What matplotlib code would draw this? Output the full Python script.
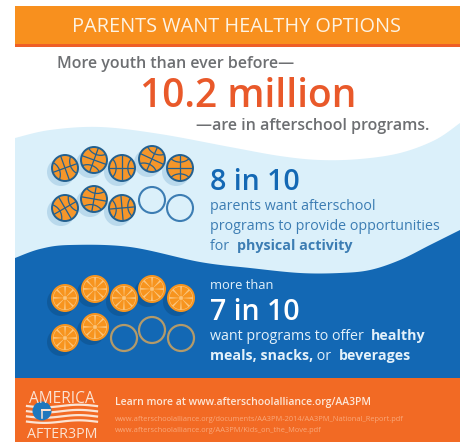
import numpy as np
import matplotlib
matplotlib.use("Agg")
import matplotlib.pyplot as plt
from matplotlib.patches import Circle, Rectangle, Polygon, Wedge, Arc
from matplotlib.path import Path

plt.rcParams['font.family'] = ['Open Sans', 'DejaVu Sans']

title = "PARENTS WANT HEALTHY OPTIONS"
youth_total = "10.2 million"
sports_filled = 8
meals_filled = 7
icons_total = 10
learn_more = "Learn more at www.afterschoolalliance.org/AA3PM"
source_urls = ["www.afterschoolalliance.org/documents/AA3PM-2014/AA3PM_National_Report.pdf",
               "www.afterschoolalliance.org/AA3PM/Kids_on_the_Move.pdf"]

# colours
ORANGE_HEAD = "#f8901e"
ORANGE_LINE = "#ee5f27"
ORANGE_RED = "#e9592a"
ORANGE_FOOT = "#f26a24"
GREY = "#6d6f72"
PALE = "#dbf0fa"
BLUE = "#1368b4"
MID_BLUE = "#3c7db3"
DARK_BLUE = "#23608f"
BALL = "#f5962a"

L, R = 15, 460

fig = plt.figure(figsize=(4.63, 4.42), dpi=100)
ax = fig.add_axes([0, 0, 1, 1])
ax.set_xlim(0, 463)
ax.set_ylim(442, 0)
ax.axis("off")


def smooth(xs, ys, n=30):
    # catmull-rom through the given knots, for the wavy band edges
    xs = np.r_[xs[0], xs, xs[-1]]
    ys = np.r_[ys[0], ys, ys[-1]]
    ox, oy = [], []
    for i in range(1, len(xs) - 2):
        t = np.linspace(0, 1, n)
        for v, o in ((xs, ox), (ys, oy)):
            p0, p1, p2, p3 = v[i - 1], v[i], v[i + 1], v[i + 2]
            o.extend(0.5 * (2 * p1 + (p2 - p0) * t + (2 * p0 - 5 * p1 + 4 * p2 - p3) * t ** 2
                            + (3 * p1 - p0 - 3 * p2 + p3) * t ** 3))
    return np.array(ox), np.array(oy)


def band(xs, ys, bottom, color, z):
    x, y = smooth(xs, ys)
    pts = np.c_[np.r_[x, R, L], np.r_[y, bottom, bottom]]
    ax.add_patch(Polygon(pts, closed=True, fc=color, ec="none", zorder=z))


def runs(x, y, parts, size, color):
    # left-aligned text made of (string, weight) pieces on one baseline
    r = fig.canvas.get_renderer()
    inv = ax.transData.inverted()
    for s, w in parts:
        t = ax.text(x, y, s, fontsize=size, color=color, fontweight=w, va="baseline", ha="left", zorder=10)
        bb = t.get_window_extent(r)
        x = inv.transform((bb.x1, bb.y0))[0]
        if s.endswith(" "):
            x += size * 0.36


def basketball(cx, cy, r, filled, tilt):
    if not filled:
        ax.add_patch(Circle((cx, cy), r, fc="none", ec=MID_BLUE, lw=1.5, zorder=5))
        return
    ax.add_patch(Circle((cx - 4, cy + 4), r + 1, fc="#b9d9ec", ec="none", zorder=3))
    ax.add_patch(Circle((cx, cy), r, fc=BALL, ec=DARK_BLUE, lw=1.4, zorder=4))
    c = Circle((cx, cy), r, transform=ax.transData)
    a = np.deg2rad(tilt)
    d = np.array([np.cos(a), np.sin(a)])
    n = np.array([-d[1], d[0]])
    ctr = np.array([cx, cy])
    segs = [(ctr - d * r, ctr + d * r), (ctr - n * r, ctr + n * r)]
    for p, q in segs:
        l, = ax.plot([p[0], q[0]], [p[1], q[1]], color=DARK_BLUE, lw=0.9, zorder=5)
        l.set_clip_path(c)
    for s in (-1, 1):
        e = ctr + n * s * r * 1.5
        arc = Arc(e, r * 2.1, r * 2.1, color=DARK_BLUE, lw=0.9, zorder=5)
        ax.add_patch(arc)
        arc.set_clip_path(c)


def orange(cx, cy, r, filled):
    if not filled:
        ax.add_patch(Circle((cx, cy), r - 1, fc="none", ec="#b39a6a", lw=1.6, zorder=5))
        return
    ax.add_patch(Circle((cx - 4, cy + 4), r, fc="#0f5a9c", ec="none", zorder=3))
    ax.add_patch(Circle((cx, cy), r, fc="#f7941e", ec="none", zorder=4))
    ax.add_patch(Circle((cx, cy), r - 2, fc="#fbc57c", ec="none", zorder=4))
    for k in range(8):
        start = k * 45 + 5
        ax.add_patch(Wedge((cx, cy), r - 2.6, start, start + 36, width=r - 4.5, fc="#f7941e", ec="none", zorder=5))


# flat background pieces, back to front
ax.add_patch(Rectangle((L, 6), R - L, 436, fc="white", ec="none", zorder=0))
band([15, 50, 100, 160, 230, 280, 320, 360, 400, 435, 460],
     [138, 130, 127, 134, 147, 156, 160, 159, 153, 140, 123], 300, PALE, 1)
band([15, 40, 70, 130, 200, 250, 300, 340, 370, 400, 430, 460],
     [258, 249, 245, 247, 262, 268, 273, 273, 270, 260, 245, 230], 379, BLUE, 2)
ax.add_patch(Rectangle((L, 6), R - L, 38, fc=ORANGE_HEAD, ec="none", zorder=3))
ax.add_patch(Rectangle((L, 44), R - L, 3, fc=ORANGE_LINE, ec="none", zorder=3))
ax.add_patch(Rectangle((L, 378), R - L, 64, fc=ORANGE_FOOT, ec="none", zorder=3))

# header block
ax.text(237, 32, title, fontsize=14.3, color="#fdf3e3", ha="center", va="baseline", zorder=10)
ax.text(57, 68, "More youth than ever before\u2014", fontsize=11.5, color=GREY, fontweight="semibold", va="baseline", zorder=10)
ax.text(248, 107, youth_total, fontsize=28, color=ORANGE_RED, fontweight="semibold", ha="center", va="baseline", zorder=10)
ax.text(196, 130, "\u2014are in afterschool programs.", fontsize=11.5, color=GREY, fontweight="semibold", va="baseline", zorder=10)

# pictograms, two staggered rows of five
ball_xy = [(65, 168), (94, 160), (122, 168), (152, 159), (180, 168),
           (65, 208), (94, 199), (122, 208), (152, 200), (180, 208)]
ball_tilt = [70, 20, 90, 25, 0, 60, 10, 85, 0, 0]
for i in range(icons_total):
    basketball(ball_xy[i][0], ball_xy[i][1], 13, i < sports_filled, ball_tilt[i])

orange_xy = [(65, 298), (95, 289), (124, 298), (152, 289), (181, 298),
             (65, 338), (95, 327), (124, 338), (152, 330), (181, 338)]
for i in range(icons_total):
    orange(orange_xy[i][0], orange_xy[i][1], 14, i < meals_filled)

# physical activity text
ax.text(210, 190, "8 in 10", fontsize=20.5, color=BLUE, fontweight="semibold", va="baseline", zorder=10)
ax.text(210, 210, "parents want afterschool", fontsize=10.3, color=MID_BLUE, va="baseline", zorder=10)
ax.text(210, 230, "programs to provide opportunities", fontsize=10.3, color=MID_BLUE, va="baseline", zorder=10)
runs(210, 250, [("for ", "normal"), ("physical activity", "bold")], 10.3, MID_BLUE)

# meals text
ax.text(210, 289, "more than", fontsize=9.3, color="#e3f1fa", va="baseline", zorder=10)
ax.text(210, 320, "7 in 10", fontsize=20.5, color="white", fontweight="semibold", va="baseline", zorder=10)
runs(210, 340, [("want programs to offer ", "normal"), ("healthy", "bold")], 10.3, "#e3f1fa")
runs(210, 360, [("meals, snacks,", "bold"), (" or ", "normal"), ("beverages", "bold")], 10.3, "#e3f1fa")

# logo in the footer
ax.text(62, 403, "AMERICA", fontsize=11.2, color="#fbe3d3", ha="center", va="baseline", zorder=10)
ax.text(62, 438, "AFTER3PM", fontsize=10.3, color="#fbe3d3", ha="center", va="baseline", zorder=10)
wx = np.linspace(27, 97, 60)
for k, off in enumerate([406, 411, 416, 421]):
    ax.plot(wx, off + k * 0.2 + 1.3 * np.sin((wx - 27) / 11), color="#fbe3d3", lw=1.6, zorder=6)
ax.add_patch(Circle((42, 411), 9.5, fc="#1f78bd", ec="none", zorder=7))
ax.plot([42, 50, 42, 42], [410, 410, 410, 418], color="#fbe3d3", lw=1.1, zorder=8)

# footer links
ax.text(115, 405, learn_more, fontsize=7.5, color="#fde7d8", fontweight="semibold", va="baseline", zorder=10)
ax.text(115, 421, source_urls[0], fontsize=5.4, color="#f9a87a", va="baseline", zorder=10)
ax.text(115, 432, source_urls[1], fontsize=5.4, color="#f9a87a", va="baseline", zorder=10)

fig.savefig("out.png", dpi=100)
